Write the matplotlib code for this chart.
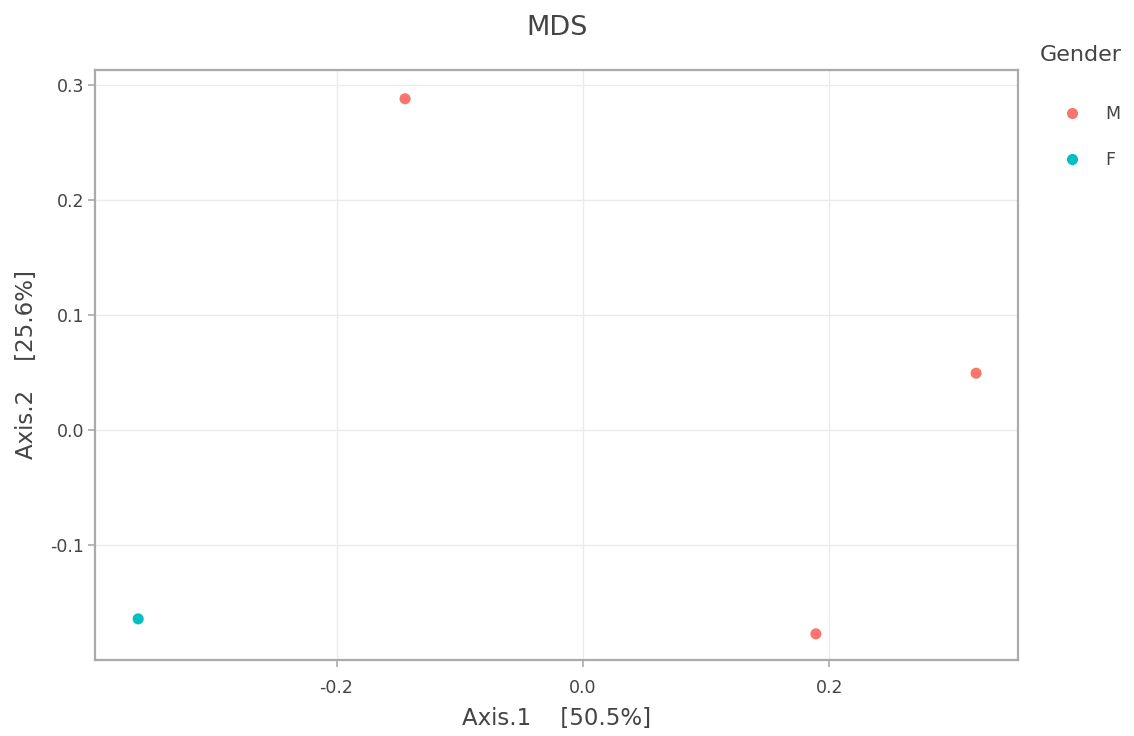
import matplotlib
matplotlib.use("Agg")
import matplotlib.pyplot as plt
from matplotlib.lines import Line2D

# Data
genders = ["M", "F"]
colors = {"M": "#F8766D", "F": "#00BFC4"}
axis1 = [-0.1444, 0.319, 0.189, -0.361]
axis2 = [0.288, 0.0495, -0.177, -0.164]
sample_gender = ["M", "M", "M", "F"]
xticks = [-0.2, 0.0, 0.2]
yticks = [-0.1, 0.0, 0.1, 0.2, 0.3]

txt = "#444444"
fig = plt.figure(figsize=(11.34, 7.36), dpi=100)
ax = fig.add_axes([0.0838, 0.1033, 0.8139, 0.8016])

for g in genders:
    xs = [x for x, s in zip(axis1, sample_gender) if s == g]
    ys = [y for y, s in zip(axis2, sample_gender) if s == g]
    ax.scatter(xs, ys, s=64, color=colors[g], edgecolors="none", zorder=3)

ax.set_xlim(-0.396, 0.353)
ax.set_ylim(-0.1997, 0.313)
ax.set_xticks(xticks)
ax.set_xticklabels([f"{v:.1f}" for v in xticks])
ax.set_yticks(yticks)
ax.set_yticklabels([f"{v:.1f}" for v in yticks])
ax.grid(True, color="#ebebeb", linewidth=1.0, zorder=0)
ax.set_axisbelow(True)
for sp in ax.spines.values():
    sp.set_color("#aaaaaa")
    sp.set_linewidth(1.6)
ax.tick_params(axis="both", colors="#aaaaaa", labelcolor=txt, labelsize=12.5,
               length=5, width=1.2)
ax.tick_params(axis="x", pad=9)
ax.tick_params(axis="y", pad=3)

ax.set_xlabel("Axis.1    [50.5%]", fontsize=16.5, color=txt, labelpad=7)
ax.set_ylabel("Axis.2    [25.6%]", fontsize=16.5, color=txt, labelpad=9)
fig.text(0.491, 0.962, "MDS", ha="center", va="center", fontsize=19.5, color=txt)

fig.text(1040 / 1134, 1 - 55 / 736, "Gender", ha="left", va="center",
         fontsize=16, color=txt)
handles = [Line2D([], [], marker="o", linestyle="none", markersize=8,
                  markerfacecolor=colors[g], markeredgecolor="none") for g in genders]
leg = fig.legend(handles, genders, loc="upper left", bbox_to_anchor=(1040 / 1134, 1 - 105 / 736),
                 frameon=False, fontsize=12.5, handlelength=3.7,
                 labelspacing=1.6, handletextpad=0.05, borderaxespad=0, borderpad=0)
for t in leg.get_texts():
    t.set_color(txt)

fig.savefig("out.png", dpi=100, facecolor="white")
